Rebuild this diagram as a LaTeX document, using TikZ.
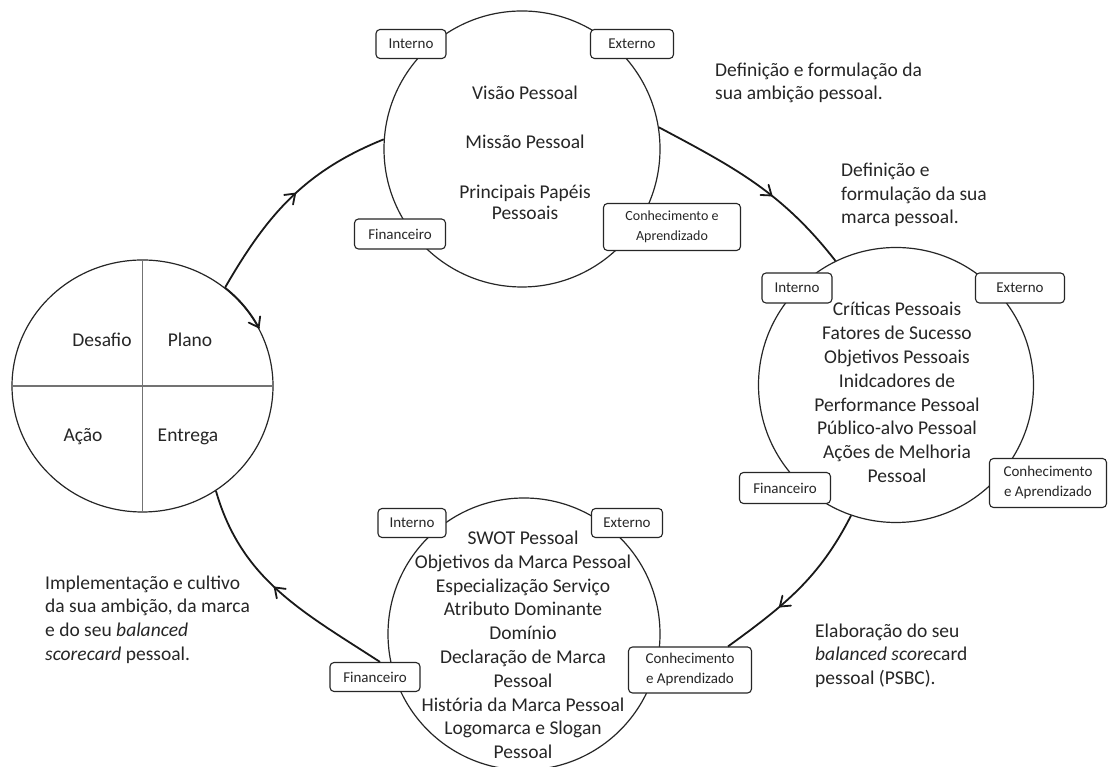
\documentclass[tikz,border=0pt]{standalone}
\usepackage{fontspec}
\setmainfont{Carlito}
\usetikzlibrary{arrows.meta,shapes.geometric,decorations.markings,calc}
\begin{document}
\begin{tikzpicture}[x=1pt,y=1pt,
  circ/.style={circle,draw=black!85,line width=1.2pt,inner sep=0},
  lbox/.style={draw=black!85,line width=1.1pt,rounded corners=4pt,fill=white,inner sep=0,font=\fontsize{15}{17}\selectfont,text=black!85,align=center},
  body/.style={text=black!85,align=center,font=\fontsize{19.5}{23.8}\selectfont,inner sep=0},
  side/.style={text=black!85,align=left,font=\fontsize{19.5}{23.7}\selectfont,inner sep=0,anchor=west},
  quad/.style={draw=black!55,line width=1.4pt},
  flow/.style={line width=1.8pt,black!90,postaction={decorate},decoration={markings,mark=at position #1 with {\draw[line width=1.8pt,line cap=round,line join=miter] (-9pt,6.5pt) -- (0pt,0pt) -- (-9pt,-6.5pt);}}},
]
\fill[white] (0,0) rectangle (1108,767);
\useasboundingbox (0,0) rectangle (1108,767);

% circles
\node[circ,minimum size=276pt] (T) at (522,618) {};
\node[circ,minimum size=275pt] (R) at (896,382) {};
\node[circ,minimum size=272pt] (B) at (524,133) {};
\node[ellipse,draw=black!85,line width=1.2pt,inner sep=0,minimum width=261pt,minimum height=252pt] (L) at (142.5,381) {};

% quadrant lines
\draw[quad] (L.north) -- (L.south);
\draw[quad] (L.west) -- (L.east);
\node[body] (desafio) at (102,427) {Desafio};
\node[body] (plano) at (190,427) {Plano};
\node[body] (acao) at (83,330) {Ação};
\node[body] (entrega) at (188,330) {Entrega};

% boxes top circle
\node[lbox,minimum width=70pt,minimum height=29pt] (TI) at (411,723) {Interno};
\node[lbox,minimum width=83pt,minimum height=29pt] (TE) at (632,723) {Externo};
\node[lbox,minimum width=91pt,minimum height=30pt] (TF) at (400,533) {Financeiro};
\node[lbox,minimum width=137pt,minimum height=47pt,font=\fontsize{14}{20}\selectfont] (TK) at (672,540) {Conhecimento e\\Aprendizado};

% boxes right circle
\node[lbox,minimum width=70pt,minimum height=30pt] (RI) at (797,479) {Interno};
\node[lbox,minimum width=89pt,minimum height=30pt] (RE) at (1020,479) {Externo};
\node[lbox,minimum width=91pt,minimum height=31pt] (RF) at (785,279) {Financeiro};
\node[lbox,minimum width=117pt,minimum height=49pt,font=\fontsize{15}{20}\selectfont] (RK) at (1048,284) {Conhecimento\\e Aprendizado};

% boxes bottom circle
\node[lbox,minimum width=68pt,minimum height=29pt] (BI) at (412,244) {Interno};
\node[lbox,minimum width=71pt,minimum height=29pt] (BE) at (627,244) {Externo};
\node[lbox,minimum width=90pt,minimum height=29pt] (BF) at (375,90) {Financeiro};
\node[lbox,minimum width=123pt,minimum height=46pt,font=\fontsize{15}{20}\selectfont] (BK) at (690,97) {Conhecimento\\e Aprendizado};

% circle bodies
\node[body] (tv) at (525,674) {Visão Pessoal};
\node[body] (tm) at (525,625) {Missão Pessoal};
\node[body,font=\fontsize{19.5}{21}\selectfont] (tp) at (525,564.5) {Principais Papéis\\Pessoais};

\node[body] (rtext) at (897,374.5) {Críticas Pessoais\\Fatores de Sucesso\\Objetivos Pessoais\\Inidcadores de\\Performance Pessoal\\Público-alvo Pessoal\\Ações de Melhoria\\Pessoal};

\node[body] (btext) at (523,122) {SWOT Pessoal\\Objetivos da Marca Pessoal\\Especialização Serviço\\Atributo Dominante\\Domínio\\Declaração de Marca\\Pessoal\\História da Marca Pessoal\\Logomarca e Slogan\\Pessoal};

% side texts
\node[side] (s1) at (715,684) {Definição e formulação da\\sua ambição pessoal.};
\node[side] (s2) at (841,572) {Definição e\\formulação da sua\\marca pessoal.};
\node[side] (s3) at (815,111.3) {Elaboração do seu\\\textit{balanced score}card\\pessoal (PSBC).};
\node[side] (s4) at (45,147.5) {Implementação e cultivo\\da sua ambição, da marca\\e do seu \textit{balanced}\\\textit{scorecard} pessoal.};

% flow arcs
\draw[flow=0.53] (L.50) to[out=60,in=202] (T.176);
\draw[flow=0.59] (T.9) to[out=-28,in=128] (R.116);
\draw[flow=0.64] (R.251) to[out=-117,in=36] ([xshift=38pt]BK.north);
\draw[flow=0.53] ([xshift=5pt]BF.north) to[out=147,in=-74] (L.-55);
\draw[flow=0.98,line width=1.6pt] (L.50) arc[start angle=51,end angle=27,x radius=130.5,y radius=126];
\end{tikzpicture}
\end{document}
